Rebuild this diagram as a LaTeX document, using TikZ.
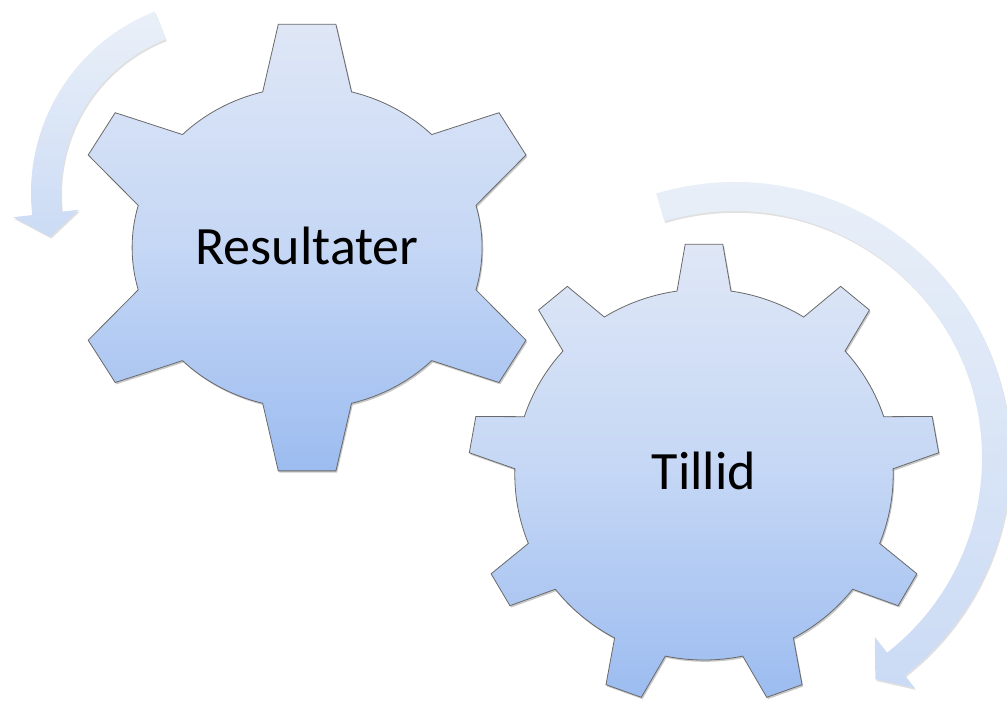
\documentclass[tikz,border=0pt]{standalone}
\usepackage{fontspec}
\setmainfont{Carlito}
\definecolor{gtop}{RGB}{223,231,246}
\definecolor{gmid}{RGB}{197,215,245}
\definecolor{gbot}{RGB}{156,188,240}
\definecolor{atop}{RGB}{234,240,248}
\definecolor{abot}{RGB}{203,219,245}
\definecolor{gline}{RGB}{105,105,105}
\begin{document}
\begin{tikzpicture}[x=1pt,y=1pt,
  gear/.style={top color=gtop, bottom color=gbot, middle color=gmid,
    draw=gline, line width=0.8pt, line join=miter,
    preaction={fill=black, opacity=0.22, transform canvas={shift={(1.2,-1.8)}}}},
  circarrow/.style={top color=atop, bottom color=abot,
    preaction={fill=black, opacity=0.12, transform canvas={shift={(1,-1.8)}}}},
  geartext/.style={font=\fontsize{54}{60}\selectfont, text=black, anchor=base, inner sep=0pt}]
\useasboundingbox (0,0) rectangle (1007,710);
\clip (0,0) rectangle (1007,710);

% arrow around gear 1
\begin{scope}[shift={(226,517)}]
\path[circarrow] (111.4:195pt) arc[start angle=111.4, end angle=186.5, radius=195pt]
  -- (186.5:214pt) -- (194:181pt) -- (186.5:148pt) -- (186.5:165pt)
  arc[start angle=186.5, end angle=111.4, radius=165pt] -- cycle;
\end{scope}

% arrow around gear 2
\begin{scope}[shift={(735,252)}]
\path[circarrow] (106.6:276pt) arc[start angle=106.6, end angle=-52, radius=276pt]
  -- (-52:292pt) -- (-57.6:262pt) -- (-52:227pt) -- (-52:247pt)
  arc[start angle=-52, end angle=106.6, radius=247pt] -- cycle;
\end{scope}

% gear 1 (six teeth)
\begin{scope}[shift={(307.1,462.4)}]
\path[gear] (-15.2:175pt and 161pt)
  arc[start angle=-15.2, end angle=15.2, x radius=175pt, y radius=161pt]
  -- (218.9,92.6) -- (191.9,134.9) -- (44.6:175pt and 161pt)
  arc[start angle=44.6, end angle=75.3, x radius=175pt, y radius=161pt]
  -- (28.8,223.3) -- (-28.8,223.3) -- (104.7:175pt and 161pt)
  arc[start angle=104.7, end angle=135.4, x radius=175pt, y radius=161pt]
  -- (-191.9,134.9) -- (-218.9,92.6) -- (164.8:175pt and 161pt)
  arc[start angle=164.8, end angle=195.2, x radius=175pt, y radius=161pt]
  -- (-218.9,-92.6) -- (-191.9,-134.9) -- (224.6:175pt and 161pt)
  arc[start angle=224.6, end angle=255.3, x radius=175pt, y radius=161pt]
  -- (-28.8,-223.3) -- (28.8,-223.3) -- (284.7:175pt and 161pt)
  arc[start angle=284.7, end angle=315.4, x radius=175pt, y radius=161pt]
  -- (191.9,-134.9) -- (218.9,-92.6) -- cycle;
\end{scope}

% gear 2 (nine teeth)
\begin{scope}[shift={(704,235.4)}, yscale=0.98]
\path[gear] (81.8:189.2pt)
  foreach \a in {90,130,...,410} {
    -- (\a-4.574:235.75pt) -- (\a+4.574:235.75pt) -- (\a+8.2:189.2pt)
    arc[start angle=\a+8.2, end angle=\a+31.8, radius=189.2pt]
  } -- cycle;
\end{scope}

\node[geartext] (res) at (307.1,445) {Resultater};
\node[geartext] (til) at (704,220) {Tillid};
\end{tikzpicture}
\end{document}
